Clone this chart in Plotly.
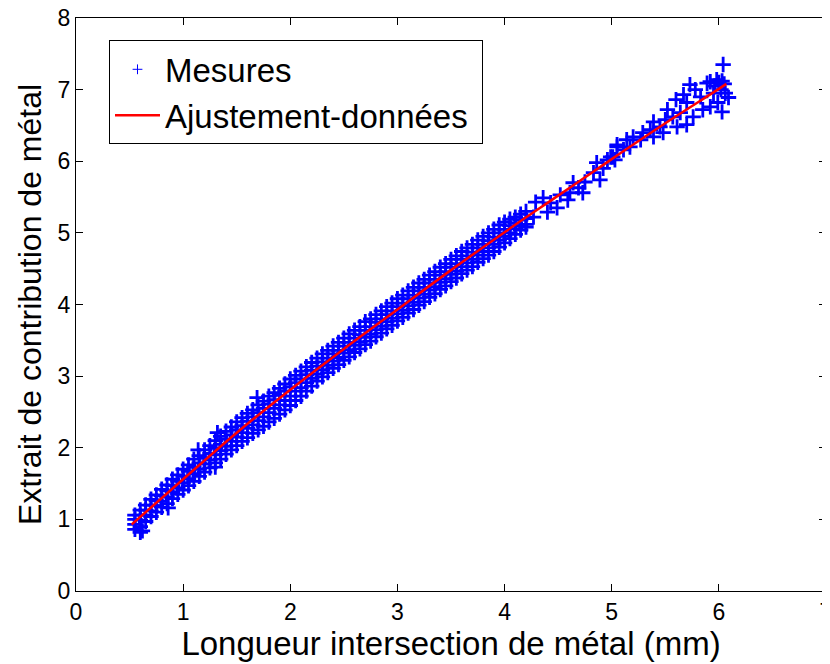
import plotly.graph_objects as go

# Courbe d'ajustement
ajust_x = [0.52, 1.0, 1.5, 2.0, 2.5, 3.0, 3.5, 4.0, 4.5, 5.0, 5.5, 6.0, 6.07]
ajust_y = [0.93, 1.56, 2.21, 2.81, 3.38, 3.93, 4.48, 5.01, 5.52, 6.03, 6.53, 7.01, 7.08]

# Mesures : colonnes denses de 0.55 a 4.20 (4 valeurs lues par colonne)
colonnes_x = [0.55, 0.60, 0.65, 0.70, 0.75, 0.80, 0.85, 0.90, 0.95, 1.00,
              1.05, 1.10, 1.15, 1.20, 1.25, 1.30, 1.35, 1.40, 1.45, 1.50,
              1.55, 1.60, 1.65, 1.70, 1.75, 1.80, 1.85, 1.90, 1.95, 2.00,
              2.05, 2.10, 2.15, 2.20, 2.25, 2.30, 2.35, 2.40, 2.45, 2.50,
              2.55, 2.60, 2.65, 2.70, 2.75, 2.80, 2.85, 2.90, 2.95, 3.00,
              3.05, 3.10, 3.15, 3.20, 3.25, 3.30, 3.35, 3.40, 3.45, 3.50,
              3.55, 3.60, 3.65, 3.70, 3.75, 3.80, 3.85, 3.90, 3.95, 4.00,
              4.05, 4.10, 4.15, 4.20]
colonnes_y = [
    [1.06, 1.00, 0.93, 0.86], [1.13, 1.06, 0.99, 0.90], [1.20, 1.13, 1.06, 0.97],
    [1.28, 1.20, 1.12, 1.04], [1.34, 1.26, 1.19, 1.10], [1.42, 1.33, 1.25, 1.17],
    [1.48, 1.40, 1.31, 1.22], [1.56, 1.47, 1.38, 1.29], [1.62, 1.53, 1.44, 1.35],
    [1.70, 1.60, 1.51, 1.41], [1.76, 1.67, 1.57, 1.47], [1.84, 1.73, 1.64, 1.53],
    [1.89, 1.79, 1.70, 1.60], [1.97, 1.86, 1.77, 1.66], [2.03, 1.92, 1.83, 1.72],
    [2.10, 1.99, 1.90, 1.79], [2.16, 2.05, 1.96, 1.84], [2.23, 2.12, 2.02, 1.91],
    [2.29, 2.18, 2.09, 1.97], [2.36, 2.25, 2.15, 2.03], [2.42, 2.31, 2.21, 2.09],
    [2.48, 2.37, 2.27, 2.14], [2.53, 2.43, 2.32, 2.20], [2.60, 2.49, 2.38, 2.25],
    [2.65, 2.55, 2.43, 2.30], [2.72, 2.61, 2.49, 2.36], [2.77, 2.67, 2.55, 2.41],
    [2.83, 2.73, 2.60, 2.47], [2.89, 2.79, 2.66, 2.53], [2.96, 2.85, 2.72, 2.59],
    [3.01, 2.91, 2.79, 2.66], [3.07, 2.96, 2.84, 2.72], [3.13, 3.02, 2.91, 2.79],
    [3.19, 3.08, 2.97, 2.86], [3.25, 3.14, 3.03, 2.93], [3.31, 3.20, 3.09, 2.99],
    [3.36, 3.25, 3.15, 3.05], [3.42, 3.31, 3.21, 3.11], [3.47, 3.36, 3.26, 3.16],
    [3.53, 3.42, 3.32, 3.22], [3.59, 3.47, 3.37, 3.27], [3.64, 3.53, 3.43, 3.33],
    [3.69, 3.58, 3.48, 3.38], [3.76, 3.64, 3.54, 3.44], [3.80, 3.69, 3.59, 3.49],
    [3.86, 3.75, 3.65, 3.55], [3.91, 3.80, 3.70, 3.60], [3.97, 3.86, 3.76, 3.66],
    [4.02, 3.91, 3.81, 3.71], [4.08, 3.97, 3.87, 3.77], [4.13, 4.02, 3.92, 3.82],
    [4.19, 4.08, 3.98, 3.88], [4.24, 4.13, 4.03, 3.93], [4.30, 4.19, 4.09, 3.99],
    [4.35, 4.24, 4.14, 4.04], [4.41, 4.30, 4.20, 4.10], [4.46, 4.35, 4.25, 4.15],
    [4.52, 4.41, 4.31, 4.21], [4.57, 4.46, 4.36, 4.26], [4.63, 4.52, 4.42, 4.32],
    [4.68, 4.57, 4.47, 4.37], [4.74, 4.63, 4.53, 4.43], [4.79, 4.68, 4.58, 4.48],
    [4.84, 4.73, 4.63, 4.53], [4.90, 4.79, 4.69, 4.59], [4.95, 4.84, 4.74, 4.64],
    [5.00, 4.89, 4.79, 4.69], [5.05, 4.94, 4.84, 4.74], [5.11, 5.00, 4.90, 4.80],
    [5.15, 5.05, 4.95, 4.86], [5.19, 5.10, 5.00, 4.92], [5.22, 5.14, 5.06, 4.98],
    [5.26, 5.18, 5.10, 5.04], [5.30, 5.20, 5.12, 5.08],
]

# Mesures isolees (partie haute et points ecartes)
isoles_x = [0.60, 0.86, 1.32, 1.30, 1.14, 1.69, 0.62,
            4.27, 4.29, 4.36, 4.40, 4.43, 4.49, 4.52, 4.59, 4.61, 4.64, 4.69, 4.73,
            4.75, 4.83, 4.86, 4.89, 4.92, 4.96, 4.99, 5.01, 5.03, 5.05, 5.05, 5.11,
            5.14, 5.17, 5.20, 5.27, 5.29, 5.36, 5.39, 5.39, 5.45, 5.48, 5.50, 5.52,
            5.57, 5.60, 5.61, 5.64, 5.67, 5.70, 5.70, 5.73, 5.76, 5.78, 5.83, 5.85,
            5.89, 5.92, 5.92, 5.95, 5.96, 5.98, 5.99, 6.00, 6.02, 6.03, 6.03, 6.04,
            6.05, 6.06, 6.09]
isoles_y = [0.82, 1.16, 2.21, 1.73, 1.97, 2.70, 0.84,
            5.22, 5.43, 5.49, 5.29, 5.42, 5.35, 5.53, 5.46, 5.56, 5.70, 5.63, 5.56,
            5.71, 5.84, 5.98, 5.74, 5.90, 6.02, 6.06, 6.06, 6.02, 6.20, 6.23, 6.16,
            6.30, 6.20, 6.34, 6.30, 6.40, 6.44, 6.55, 6.34, 6.48, 6.40, 6.58, 6.72,
            6.62, 6.86, 6.48, 6.68, 6.93, 6.82, 6.51, 7.07, 6.62, 7.00, 6.90, 6.72,
            7.09, 7.11, 6.76, 6.95, 7.05, 7.14, 6.82, 7.10, 7.00, 6.69, 7.12, 7.35,
            7.08, 6.95, 6.89]

mesures_x = [x for x, ys in zip(colonnes_x, colonnes_y) for _ in ys] + isoles_x
mesures_y = [y for ys in colonnes_y for y in ys] + isoles_y

police = "Liberation Sans, Arial, sans-serif"
bleu = "#0000ff"

fig = go.Figure()
fig.add_trace(go.Scatter(
    x=mesures_x, y=mesures_y, mode="markers", name="Mesures", showlegend=False,
    marker=dict(symbol="cross-thin", size=11, color=bleu,
                line=dict(color=bleu, width=2.8)),
))
# entree de legende seule (petit "+")
fig.add_trace(go.Scatter(
    x=[None], y=[None], mode="markers", name="Mesures",
    marker=dict(symbol="cross-thin", size=7, color=bleu,
                line=dict(color=bleu, width=1)),
))
fig.add_trace(go.Scatter(
    x=ajust_x, y=ajust_y, mode="lines", name="Ajustement-données\u00a0",
    line=dict(color="#ff0000", width=2.5, shape="spline"),
))

axe = dict(showgrid=False, zeroline=False, showline=True, linecolor="black",
           linewidth=1, mirror="ticks", ticks="inside", ticklen=7,
           tickcolor="black", tickfont=dict(size=23, color="black"),
           automargin=False, ticklabeloverflow="allow")

# la page ajoute une marge de 8 px autour de la figure
fig.update_layout(
    width=822, height=656,
    margin=dict(l=68, r=4, t=10, b=73),
    paper_bgcolor="white", plot_bgcolor="white",
    font=dict(family=police, color="black"),
    xaxis=dict(range=[0, 7], dtick=1,
               title=dict(text="Longueur intersection de métal (mm)",
                          font=dict(size=33), standoff=0), **axe),
    yaxis=dict(range=[0, 8], dtick=1,
               title=dict(text="Extrait de contribution de métal",
                          font=dict(size=32), standoff=6), **axe),
    legend=dict(x=0.044, y=0.961, xanchor="left", yanchor="top",
                bgcolor="white", bordercolor="black", borderwidth=1,
                font=dict(size=33), itemwidth=45, tracegroupgap=0),
    showlegend=True,
)

fig.write_html("out.html")
